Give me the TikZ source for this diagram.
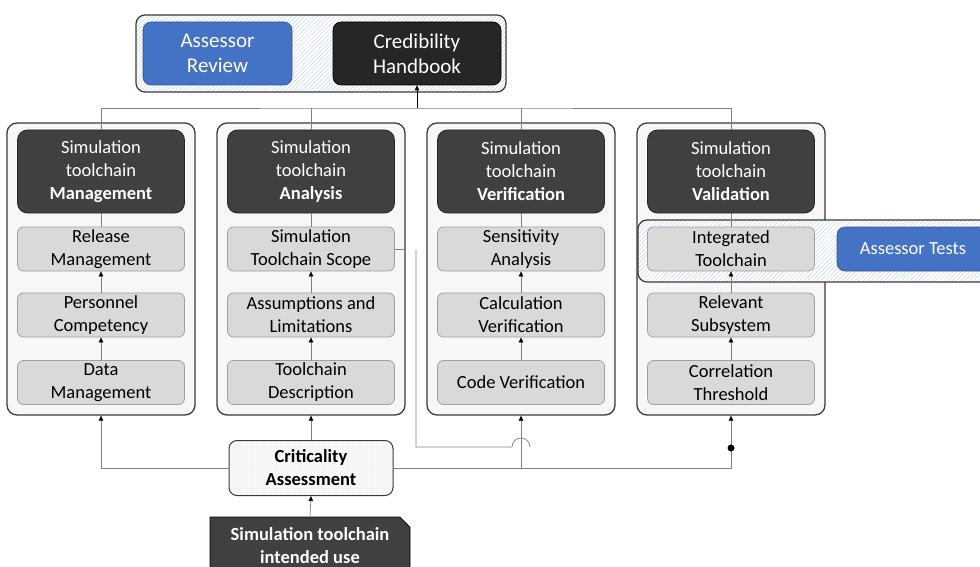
\documentclass[tikz,border=0pt]{standalone}
\usepackage{fontspec}
\setmainfont{Carlito}
\usetikzlibrary{arrows.meta,patterns.meta,shapes.misc}
\definecolor{cdark}{HTML}{3A3A3A}
\definecolor{couter}{HTML}{F7F7F7}
\definecolor{chead}{HTML}{404040}
\definecolor{cheadd}{HTML}{262626}
\definecolor{csub}{HTML}{D9D9D9}
\definecolor{csubd}{HTML}{A0A0A0}
\definecolor{chatch}{HTML}{C3D5EE}
\definecolor{cblue}{HTML}{4472C4}
\definecolor{cblued}{HTML}{2F5597}
\definecolor{cblack}{HTML}{262626}
\definecolor{cline}{HTML}{808080}
\newcommand\fsn{\fontsize{18.5}{23}\selectfont}
\newcommand\fsb{\fontsize{21}{25}\selectfont}
\begin{document}
\begin{tikzpicture}[x=1pt,y=-1pt,
  outerbox/.style={draw=cdark, line width=1.3pt, fill=couter, rounded corners=10pt, minimum width=188pt, minimum height=292pt, inner sep=0pt},
  headbox/.style={draw=cheadd, fill=chead, line width=0.8pt, rounded corners=10pt, minimum width=167pt, minimum height=83pt, text=white, align=center, inner sep=0pt, font=\fsn},
  subbox/.style={draw=csubd, fill=csub, line width=0.8pt, rounded corners=6pt, minimum width=167pt, minimum height=44pt, align=center, inner sep=0pt, font=\fsn},
  hatchbox/.style={draw=cdark, line width=1.2pt, rounded corners=9pt, inner sep=0pt, preaction={fill=white}, pattern={Lines[angle=45,distance=3pt,line width=0.5pt]}, pattern color=chatch},
  bluebox/.style={draw=cblued, fill=cblue, line width=0.6pt, rounded corners=8pt, text=white, align=center, inner sep=0pt},
  blackbox/.style={draw=black, fill=cblack, line width=0.6pt, rounded corners=8pt, text=white, align=center, inner sep=0pt},
  ln/.style={draw=cline, line width=0.7pt},
  arr/.style={draw=cline, line width=0.7pt, -{Triangle[length=5pt,width=4.5pt,color=black]}}
]
\useasboundingbox (0,0) rectangle (980,567);
\clip (0,0) rectangle (980,567);

% column containers
\node[outerbox] (o1) at (101,269) {};
\node[outerbox] (o2) at (311,269) {};
\node[outerbox] (o3) at (521,269) {};
\node[outerbox] (o4) at (731,269) {};

% assessor tests band
\node[hatchbox, minimum width=362pt, minimum height=62pt] (tests) at (819,251) {};

% top group
\node[hatchbox, minimum width=370pt, minimum height=77pt] (top) at (321,53.5) {};
\node[bluebox, font=\fsb, minimum width=149pt, minimum height=63pt] (ar) at (217.5,53.5) {Assessor\\Review};
\node[blackbox, font=\fsb, minimum width=168pt, minimum height=63pt] (hb) at (417,53.5) {Credibility\\Handbook};

% headers
\node[headbox] (h1) at (101,171.5) {Simulation\\toolchain\\\textbf{Management}};
\node[headbox] (h2) at (311,171.5) {Simulation\\toolchain\\\textbf{Analysis}};
\node[headbox] (h3) at (521,171.5) {Simulation\\toolchain\\\textbf{Verification}};
\node[headbox] (h4) at (731,171.5) {Simulation\\toolchain\\\textbf{Validation}};

% sub boxes
\node[subbox] (a1) at (101,249) {Release\\Management};
\node[subbox] (b1) at (101,315) {Personnel\\Competency};
\node[subbox] (c1) at (101,382.5) {Data\\Management};
\node[subbox] (a2) at (311,249) {Simulation\\Toolchain Scope};
\node[subbox] (b2) at (311,315) {Assumptions and\\Limitations};
\node[subbox] (c2) at (311,382.5) {Toolchain\\Description};
\node[subbox] (a3) at (521,249) {Sensitivity\\Analysis};
\node[subbox] (b3) at (521,315) {Calculation\\Verification};
\node[subbox] (c3) at (521,382.5) {Code Verification};
\node[subbox] (a4) at (731,249) {Integrated\\Toolchain};
\node[subbox] (b4) at (731,315) {Relevant\\Subsystem};
\node[subbox] (c4) at (731,382.5) {Correlation\\Threshold};

\node[bluebox, font=\fsn, minimum width=152pt, minimum height=44pt] (at) at (913,249) {Assessor Tests};

% criticality and intended use
\node[draw=cdark, line width=1pt, rounded corners=8pt, inner sep=0pt, minimum width=164pt, minimum height=55pt,
      preaction={fill=gray!6}, pattern={Dots[distance=6pt,radius=0.45pt]}, pattern color=gray!70,
      align=center, font=\fsn\bfseries] (crit) at (311,468) {Criticality\\Assessment};
\node[chamfered rectangle, chamfered rectangle corners=north east, chamfered rectangle xsep=7pt,
      draw=black, fill=chead, line width=0.8pt, minimum width=200pt, minimum height=58pt, inner sep=0pt,
      text=white, align=center, font=\fsn\bfseries] (use) at (310,546) {Simulation toolchain\\intended use};

% column internal connectors
\foreach \i in {1,2,3,4}{
  \draw[arr] (c\i) -- (b\i);
  \draw[arr] (b\i) -- (a\i);
  \draw[ln] (a\i) -- (h\i);
}

% top bus
\coordinate (bus) at (hb.south |- 0,108);
\draw[ln] (h1.north) |- (bus) -| (h4.north);
\draw[ln] (h2.north) -- (h2.north |- bus);
\draw[ln] (h3.north) -- (h3.north |- bus);
\draw[line width=0.8pt, -{Triangle[length=5pt,width=4.5pt]}] (bus) -- (hb.south);

% scope stub and loose line
\draw[ln] (a2.east) -- (o2.east |- a2.east);
\coordinate (l1) at (416,250);
\coordinate (l2) at (416,447);
\coordinate (hop) at (o3.south |- l2);
\draw[ln] (l1) -- (l2) -- ([xshift=-9pt]hop) arc[start angle=180,end angle=360,radius=9];

% criticality bus
\draw[arr] (crit.west) -| (o1.south);
\draw[arr] (crit.east) -| (o4.south);
\draw[arr] (crit.east -| o3.south) -- (o3.south);
\draw[arr] (crit.north) -- (o2.south);
\draw[arr] (use.north) -- (crit.south);
\node[circle, fill=black, inner sep=0pt, minimum size=7pt] (dot) at (731,448) {};
\end{tikzpicture}
\end{document}
